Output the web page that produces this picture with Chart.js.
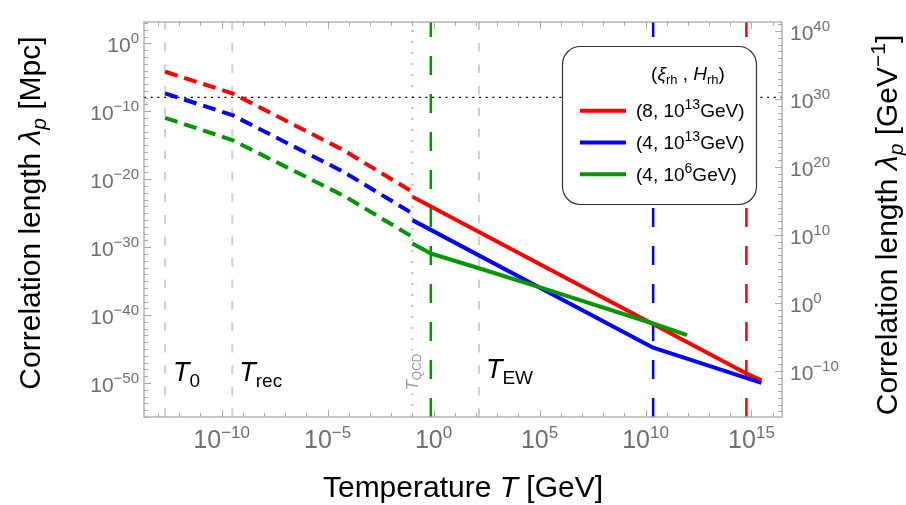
<!DOCTYPE html>
<html><head><meta charset="utf-8">
<script src="https://cdn.jsdelivr.net/npm/chart.js@4.4.1/dist/chart.umd.min.js"></script>
<style>html,body{margin:0;padding:0;background:#fff}#wrap{width:906px;height:505px}</style>
</head><body><div id="wrap"><canvas id="c" width="906" height="505"></canvas></div>
<script>
// All values are log10: temperature T in GeV, correlation length lambda_p in Mpc
const logT_dash   = [-12.67, -9.5, -4.26, -1.0];
const red_dash    = [-4.18, -7.36, -15.71, -21.86];
const blue_dash   = [-7.36, -10.56, -18.9, -25.04];
const green_dash  = [-10.96, -14.24, -22.4, -28.48];
const logT_red    = [-1.0, 14.76, 15.47];
const red_solid   = [-22.59, -48.6, -49.6];
const logT_blue   = [-1.0, 10.36, 15.47];
const blue_solid  = [-26.02, -44.8, -49.98];
const logT_green  = [-1.0, -0.13, 2.18, 5.17, 10.36, 11.96];
const green_solid = [-29.45, -30.93, -33.14, -36.08, -41.24, -42.96];
// characteristic temperatures (log10 GeV)
const markerLabels = ['0', 'rec', 'QCD', 'EW'];
const markerLogT   = [-12.67, -9.5, -1.0, 2.14];
const rhLogT       = [-0.13, 10.36, 14.76];   // green, blue, red reheating
const hLineLog     = -7.95;                    // dotted horizontal reference
// tick labels (exponents)
const xTickExps  = [-10, -5, 0, 5, 10, 15];
const yLeftExps  = [0, -10, -20, -30, -40, -50];
const yRightExps = [40, 30, 20, 10, 0, -10];
const legendLabels = [['(8, 10', '13', 'GeV)'], ['(4, 10', '13', 'GeV)'], ['(4, 10', '6', 'GeV)']];
const MPC_IN_INV_GEV = 38.19; // log10(1 Mpc / GeV^-1)

const XMIN = -13.665, XMAX = 16.44, YMIN = -55, YMAX = 3.14;
const RED = '#ff0000', BLUE = '#0000ff', GREEN = '#009600';
const FONT = '"Liberation Sans", Arial, Helvetica, sans-serif';

const pts = (xs, ys) => xs.map((x, i) => ({x, y: ys[i]}));
const vline = v => [{x: v, y: YMIN}, {x: v, y: YMAX}];

function series(data, color, dashed) {
  return {data, borderColor: color, borderWidth: 4, borderDash: dashed ? [13, 7] : [],
    pointRadius: 0, tension: 0, fill: false, borderCapStyle: 'butt', borderJoinStyle: 'round'};
}
function ref(data, color, width, dash, cap) {
  return {data, borderColor: color, borderWidth: width, borderDash: dash, pointRadius: 0,
    tension: 0, fill: false, borderCapStyle: cap || 'butt'};
}

const datasets = [
  series(pts(logT_green, green_solid), GREEN, false),
  series(pts(logT_dash, green_dash), GREEN, true),
  series(pts(logT_blue, blue_solid), BLUE, false),
  series(pts(logT_dash, blue_dash), BLUE, true),
  series(pts(logT_red, red_solid), RED, false),
  series(pts(logT_dash, red_dash), RED, true),
  ref(vline(rhLogT[0]), GREEN, 2.5, [19, 19]),
  ref(vline(rhLogT[1]), BLUE, 2.5, [19, 19]),
  ref(vline(rhLogT[2]), RED, 2.5, [19, 19]),
  ref([{x: XMIN, y: hLineLog}, {x: XMAX, y: hLineLog}], '#000', 1.4, [2, 4.7]),
  ref(vline(markerLogT[0]), '#cfcfcf', 2, [8.5, 13]),
  ref(vline(markerLogT[1]), '#cfcfcf', 2, [8.5, 13]),
  ref(vline(markerLogT[2]), '#bdbdbd', 2, [2, 9]),
  ref(vline(markerLogT[3]), '#cfcfcf', 2, [8.5, 13]),
];

function fontStr(p) { return (p.it ? 'italic ' : '') + p.s + 'px ' + FONT; }
function richWidth(ctx, parts) {
  let w = 0;
  for (const p of parts) { ctx.font = fontStr(p); w += ctx.measureText(p.t).width; }
  return w;
}
function drawRich(ctx, parts, x, y, align) {
  const w = richWidth(ctx, parts);
  let cx = align === 'center' ? x - w / 2 : align === 'right' ? x - w : x;
  ctx.textAlign = 'left'; ctx.textBaseline = 'alphabetic';
  for (const p of parts) {
    ctx.font = fontStr(p);
    ctx.fillText(p.t, cx, y + (p.dy || 0));
    cx += ctx.measureText(p.t).width;
  }
  return w;
}
function expParts(e, base, sup, rise) {
  return [{t: '10', s: base}, {t: (e < 0 ? '\u2212' + Math.abs(e) : String(e)), s: sup, dy: -rise}];
}

const decor = {
  id: 'decor',
  afterDatasetsDraw(chart) {
    const ctx = chart.ctx;
    const xs = chart.scales.x, yl = chart.scales.y, yr = chart.scales.y2;
    const {left, right, top, bottom} = chart.chartArea;
    ctx.save();
    // T_QCD rotated label with white background
    ctx.save();
    const qx = xs.getPixelForValue(markerLogT[2]);
    ctx.translate(qx + 6, 372);
    ctx.rotate(-Math.PI / 2);
    const qparts = [{t: 'T', s: 17, it: true}, {t: 'QCD', s: 12, dy: 3}];
    const qw = richWidth(ctx, qparts);
    ctx.fillStyle = '#fff';
    ctx.fillRect(-qw / 2 - 3, -14, qw + 6, 17);
    ctx.fillStyle = '#9a9a9a';
    drawRich(ctx, qparts, 0, 0, 'center');
    ctx.restore();

    // frame
    ctx.strokeStyle = '#a8a8a8'; ctx.lineWidth = 1.3;
    ctx.strokeRect(left, top, right - left, bottom - top);
    ctx.lineWidth = 1;
    ctx.beginPath();
    for (let e = Math.ceil(xs.min); e <= xs.max; e++) {
      const px = Math.round(xs.getPixelForValue(e)) + 0.5, L = (e % 5 === 0) ? 7 : 4;
      ctx.moveTo(px, bottom); ctx.lineTo(px, bottom - L);
      ctx.moveTo(px, top); ctx.lineTo(px, top + L);
    }
    for (let e = Math.ceil(yl.min); e <= yl.max; e++) {
      const py = Math.round(yl.getPixelForValue(e)) + 0.5, L = (e % 10 === 0) ? 7 : 4;
      ctx.moveTo(left, py); ctx.lineTo(left + L, py);
    }
    for (let e = Math.ceil(yr.min); e <= yr.max; e++) {
      const py = Math.round(yr.getPixelForValue(e)) + 0.5, L = (e % 10 === 0) ? 7 : 4;
      ctx.moveTo(right, py); ctx.lineTo(right - L, py);
    }
    ctx.stroke();

    // tick labels
    ctx.fillStyle = '#6f6f6f';
    for (const e of xTickExps) drawRich(ctx, expParts(e, 25, 17, 10), xs.getPixelForValue(e), 448, 'center');
    for (const e of yLeftExps) drawRich(ctx, expParts(e, 21, 15, 9), 139, yl.getPixelForValue(e) + 9, 'right');
    for (const e of yRightExps) drawRich(ctx, expParts(e, 21, 15, 9), 790, yr.getPixelForValue(e) + 9, 'left');

    // axis titles
    ctx.fillStyle = '#000';
    drawRich(ctx, [{t: 'Temperature ', s: 30}, {t: 'T', s: 30, it: true}, {t: ' [GeV]', s: 30}], 463, 497, 'center');
    ctx.save(); ctx.translate(40, 213); ctx.rotate(-Math.PI / 2);
    drawRich(ctx, [{t: 'Correlation length ', s: 30}, {t: '\u03bb', s: 30, it: true}, {t: 'p', s: 21, it: true, dy: 6}, {t: ' [Mpc]', s: 30}], 0, 0, 'center');
    ctx.restore();
    ctx.save(); ctx.translate(897, 225); ctx.rotate(-Math.PI / 2);
    drawRich(ctx, [{t: 'Correlation length ', s: 30}, {t: '\u03bb', s: 30, it: true}, {t: 'p', s: 21, it: true, dy: 6}, {t: ' [GeV', s: 30}, {t: '\u22121', s: 21, dy: -12}, {t: ']', s: 30}], 0, 0, 'center');
    ctx.restore();

    // temperature markers
    const mk = (i, x, y) => drawRich(ctx, [{t: 'T', s: 27, it: true}, {t: markerLabels[i], s: 19, dy: 6}], x, y, 'left');
    mk(0, xs.getPixelForValue(markerLogT[0]) + 8, 381);
    mk(1, xs.getPixelForValue(markerLogT[1]) + 7, 381);
    mk(3, xs.getPixelForValue(markerLogT[3]) + 7, 378);

    // legend
    ctx.fillStyle = '#fff'; ctx.strokeStyle = '#333'; ctx.lineWidth = 1.2;
    ctx.beginPath(); ctx.roundRect(562.5, 46.5, 194, 158, 18); ctx.fill(); ctx.stroke();
    ctx.fillStyle = '#000';
    drawRich(ctx, [{t: '(', s: 19}, {t: '\u03be', s: 19, it: true}, {t: 'rh', s: 13, dy: 4}, {t: ' , ', s: 19},
      {t: 'H', s: 19, it: true}, {t: 'rh', s: 13, dy: 4}, {t: ')', s: 19}], 688, 80, 'center');
    const cols = [RED, BLUE, GREEN], ys = [110.7, 142.5, 174.3];
    for (let i = 0; i < 3; i++) {
      ctx.strokeStyle = cols[i]; ctx.lineWidth = 4;
      ctx.beginPath(); ctx.moveTo(580, ys[i]); ctx.lineTo(626, ys[i]); ctx.stroke();
      const L = legendLabels[i];
      drawRich(ctx, [{t: L[0], s: 19}, {t: L[1], s: 14, dy: -8}, {t: L[2], s: 19}], 636, ys[i] + 6.5, 'left');
    }
    ctx.restore();
  }
};

new Chart(document.getElementById('c'), {
  type: 'line',
  data: {datasets},
  options: {
    responsive: false, devicePixelRatio: 1, animation: false, events: [],
    layout: {padding: {top: 22, left: 0, right: 0, bottom: 0}},
    plugins: {legend: {display: false}, tooltip: {enabled: false}},
    scales: {
      x: {type: 'linear', min: XMIN, max: XMAX, ticks: {display: false}, grid: {display: false}, border: {display: false},
          afterFit: s => { s.height = 88; }},
      y: {type: 'linear', position: 'left', min: YMIN, max: YMAX, ticks: {display: false}, grid: {display: false}, border: {display: false},
          afterFit: s => { s.width = 144; }},
      y2: {type: 'linear', position: 'right', min: YMIN + MPC_IN_INV_GEV, max: YMAX + MPC_IN_INV_GEV, ticks: {display: false}, grid: {display: false}, border: {display: false},
          afterFit: s => { s.width = 124; }}
    }
  },
  plugins: [decor]
});
</script></body></html>
